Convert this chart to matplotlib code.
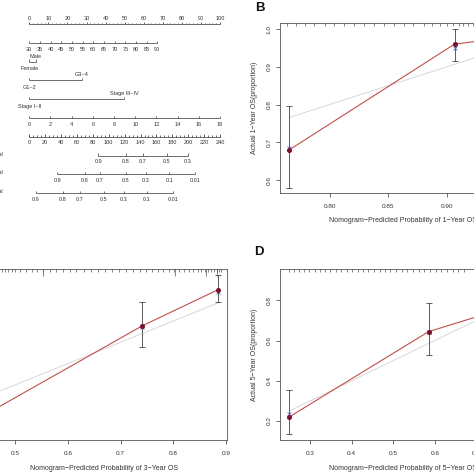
import matplotlib
matplotlib.use("Agg")
import matplotlib.pyplot as plt
import numpy as np

plt.rcParams['font.family'] = ['Liberation Sans', 'DejaVu Sans']

W = H = 474.0
TXT = '#333333'
AX = '#555555'

# ---------------- Nomogram data (panel A) ----------------
points_ticks = list(range(0, 101, 10))
age_ticks = [30, 35, 40, 45, 50, 55, 60, 65, 70, 75, 80, 85, 90]
age_max_points = 67.1
sex_levels = ["Female", "Male"]
sex_points = [0.0, 3.5]
grade_levels = ["G1~2", "G3~4"]
grade_points = [0.0, 27.5]
stage_levels = ["Stage I~II", "Stage III~IV"]
stage_points = [0.0, 49.7]
cont_ticks = [0, 2, 4, 6, 8, 10, 12, 14, 16, 18]
total_ticks = list(range(0, 241, 20))
surv1_labels = ["0.9", "0.8", "0.7", "0.5", "0.3"]
surv1_total = [86.8, 121.7, 142.7, 172.9, 199.3]
surv3_labels = ["0.9", "0.8", "0.7", "0.5", "0.3", "0.1", "0.01"]
surv3_total = [35.2, 70.1, 89.0, 121.7, 146.5, 176.2, 208.5]
surv5_labels = ["0.9", "0.8", "0.7", "0.5", "0.3", "0.1", "0.01"]
surv5_total = [8.4, 42.0, 63.8, 94.0, 119.2, 147.7, 181.2]

# ---------------- Calibration data (panels B, C, D) ----------------
b_pred = [0.7657, 0.9064, 0.945]
b_obs = [0.680, 0.960, 0.975]
b_lo = [0.580, 0.915, 0.94]
b_hi = [0.795, 1.000, 1.0]
b_corr = [0.686, 0.950, 0.97]
b_rug = [0.764, 0.771, 0.779, 0.787, 0.796, 0.804, 0.812, 0.821, 0.829, 0.838,
         0.846, 0.855, 0.863, 0.871, 0.880, 0.887, 0.894, 0.900, 0.905, 0.910,
         0.914, 0.918, 0.922]

c_pred = [0.400, 0.740, 0.885]
c_obs = [0.300, 0.776, 0.947]
c_lo = [0.20, 0.678, 0.889]
c_hi = [0.42, 0.889, 1.016]
c_corr = [0.31, 0.770, 0.935]
c_rug = [0.437, 0.445, 0.452, 0.458, 0.466, 0.474, 0.481, 0.487, 0.494, 0.500,
         0.509, 0.520, 0.531, 0.541, 0.553, 0.565, 0.577, 0.590, 0.603, 0.616,
         0.630, 0.643, 0.657, 0.671, 0.684, 0.697, 0.711, 0.724, 0.737, 0.749,
         0.760, 0.771, 0.781, 0.791, 0.801, 0.811, 0.820, 0.829, 0.838, 0.846,
         0.853, 0.860, 0.866, 0.872, 0.877, 0.882, 0.887, 0.891]
c_rug_long = [0.552, 0.804, 0.862, 0.883]

d_pred = [0.2494, 0.585, 0.790]
d_obs = [0.220, 0.644, 0.775]
d_lo = [0.133, 0.527, 0.68]
d_hi = [0.355, 0.787, 0.87]
d_corr = [0.234, 0.640, 0.77]
d_rug = [0.250, 0.262, 0.274, 0.286, 0.298, 0.311, 0.323, 0.335, 0.348, 0.362,
         0.375, 0.388, 0.401, 0.414, 0.427, 0.440, 0.453, 0.467, 0.480, 0.493,
         0.507, 0.520, 0.534, 0.548, 0.561, 0.575, 0.589, 0.602, 0.616, 0.630,
         0.643, 0.657, 0.671]

fig = plt.figure(figsize=(4.74, 4.74), dpi=100)


def fig_rect(left_px, top_px, width_px, height_px):
    return [left_px / W, 1 - (top_px + height_px) / H, width_px / W, height_px / H]


# ================= Panel A: nomogram =================
axA = fig.add_axes(fig_rect(0, 0, 237, 237))
px0, ppp = 29.3, 1.907   # pixel of 0 points, pixels per point
axA.set_xlim(-px0 / ppp, (237 - px0) / ppp)
axA.set_ylim(237, 0)
axA.axis('off')
FS_A = 4.0
LW_A = 0.6


def hline(y, x0, x1):
    axA.plot([x0, x1], [y, y], color=AX, lw=LW_A, solid_capstyle='butt')


def ticks(y, xs, length=2.2):
    axA.vlines(xs, y - length, y, color=AX, lw=LW_A)


def labels(y, xs, labs, dy=6.0):
    for x, l in zip(xs, labs):
        axA.text(x, y + dy, l, fontsize=FS_A, color=TXT, ha='center', va='center')


# Points axis (labels above)
y = 24.0
hline(y, 0, 100)
ticks(y, np.arange(0, 101, 2), 1.2)
ticks(y, points_ticks, 2.4)
labels(y, points_ticks, [str(v) for v in points_ticks], dy=-6.0)

# Age
y = 43.3
age_pts = [(a - age_ticks[0]) / (age_ticks[-1] - age_ticks[0]) * age_max_points for a in age_ticks]
hline(y, age_pts[0], age_pts[-1])
ticks(y, age_pts, 2.2)
labels(y, age_pts, [str(a) for a in age_ticks], dy=6.0)

# Categorical variables: (levels, points, line y)
for levs, pts, y in [(sex_levels, sex_points, 61.7),
                     (grade_levels, grade_points, 80.0),
                     (stage_levels, stage_points, 99.3)]:
    hline(y, pts[0], pts[1])
    ticks(y, pts, 2.2)
    axA.text(pts[0], y + 7.2, levs[0], fontsize=FS_A, color=TXT, ha='center', va='center')
    axA.text(pts[1], y - 5.4, levs[1], fontsize=FS_A, color=TXT, ha='center', va='center')

# Continuous 0..18 variable
y = 118.3
cont_pts = [v / cont_ticks[-1] * 100 for v in cont_ticks]
hline(y, 0, 100)
ticks(y, cont_pts, 2.2)
labels(y, cont_pts, [str(v) for v in cont_ticks], dy=6.0)

# Total points
y = 136.7
tot_pts = [t / 2.4 for t in total_ticks]
hline(y, 0, 100)
ticks(y, np.arange(0, 241, 5) / 2.4, 1.2)
ticks(y, tot_pts, 2.2)
labels(y, tot_pts, [str(t) for t in total_ticks], dy=6.0)

# Survival probability axes
for labs, tots, y, name in [(surv1_labels, surv1_total, 155.7, "1-year Survival"),
                            (surv3_labels, surv3_total, 174.3, "3-year Survival"),
                            (surv5_labels, surv5_total, 193.3, "5-year Survival")]:
    p = [t / 2.4 for t in tots]
    hline(y, p[0], p[-1])
    ticks(y, p, 2.2)
    labels(y, p, labs, dy=6.0)
    axA.text(2.6 / ppp - px0 / ppp, y - 1.5, name, fontsize=FS_A, color=TXT,
             ha='right', va='center')


# ================= Calibration panels =================
FS_T = 4.6
FS_L = 5.0
RED = '#c0504d'
PT = '#7a0f2a'


def calib(rect, xlim, ylim, xticks, xticklabels, yticks, pred, obs, lo, hi, corr, rug,
          rug_long, xlabel, ylabel, xpad=5, ypad=3.4):
    ax = fig.add_axes(rect)
    ax.set_xlim(*xlim)
    ax.set_ylim(*ylim)
    for s in ax.spines.values():
        s.set_color(AX)
        s.set_linewidth(0.6)
    ax.set_xticks(xticks)
    ax.set_xticklabels(xticklabels)
    ax.set_yticks(yticks)
    ax.tick_params(axis='both', length=3, width=0.6, color=AX, labelsize=FS_T,
                   labelcolor=TXT)
    ax.tick_params(axis='x', pad=xpad)
    ax.tick_params(axis='y', pad=ypad)
    for t in ax.get_yticklabels():
        t.set_rotation(90)
        t.set_va('center')
    # ideal line
    ax.plot([pred[0], pred[-1]], [pred[0], pred[-1]], color='#d8d8d8', lw=0.7)
    # apparent calibration
    ax.plot(pred, obs, color=RED, lw=0.8)
    ax.errorbar(pred, obs, yerr=[np.array(obs) - np.array(lo), np.array(hi) - np.array(obs)],
                fmt='none', ecolor='#444444', elinewidth=0.6, capsize=2.2, capthick=0.6)
    ax.plot(pred, corr, ls='none', marker='x', ms=2.2, mew=0.6, color='#5566bb')
    ax.plot(pred, obs, ls='none', marker='o', ms=2.6, color=PT, mec=PT)
    # rug of predicted risks along the top
    ax.vlines(rug, 1 - 0.018, 1.0, color=AX, lw=0.5, transform=ax.get_xaxis_transform())
    if rug_long:
        ax.vlines(rug_long, 1 - 0.04, 1.0, color=AX, lw=0.5, transform=ax.get_xaxis_transform())
    ax.set_xlabel(xlabel, fontsize=FS_L, color=TXT, labelpad=6)
    if ylabel:
        ax.set_ylabel(ylabel, fontsize=FS_L, color=TXT, labelpad=6)
    return ax


axB = calib(fig_rect(280.3, 23, 245.4, 170), (0.758, 0.967), (0.5656, 1.0159),
            [0.80, 0.85, 0.90], ["0.80", "0.85", "0.90"], [0.6, 0.7, 0.8, 0.9, 1.0],
            b_pred, b_obs, b_lo, b_hi, b_corr, b_rug, None,
            "Nomogram\u2212Predicted Probability of 1\u2212Year OS",
            "Actual 1\u2212Year OS(proportion)")

axC = calib(fig_rect(-19, 269.3, 246, 171), (0.4349, 0.9019), (0.2393, 1.0429),
            [0.5, 0.6, 0.7, 0.8, 0.9], ["0.5", "0.6", "0.7", "0.8", "0.9"], [0.4, 0.6, 0.8, 1.0],
            c_pred, c_obs, c_lo, c_hi, c_corr, c_rug, c_rug_long,
            "Nomogram\u2212Predicted Probability of 3\u2212Year OS", None)
axC.tick_params(axis='y', labelleft=False)

axD = calib(fig_rect(280.3, 269.3, 245.4, 171), (0.228, 0.819), (0.104, 0.954),
            [0.3, 0.4, 0.5, 0.6, 0.7], ["0.3", "0.4", "0.5", "0.6", "0.7"], [0.2, 0.4, 0.6, 0.8],
            d_pred, d_obs, d_lo, d_hi, d_corr, d_rug, None,
            "Nomogram\u2212Predicted Probability of 5\u2212Year OS",
            "Actual 5\u2212Year OS(proportion)")

# panel letters
fig.text(260 / W, 1 - 8 / H, "B", fontsize=9.5, fontweight='bold', ha='center', va='center',
         color='#111111')
fig.text(258.7 / W, 1 - 252 / H, "D", fontsize=9.5, fontweight='bold', ha='center', va='center',
         color='#111111')

fig.savefig("out.png", dpi=100)
